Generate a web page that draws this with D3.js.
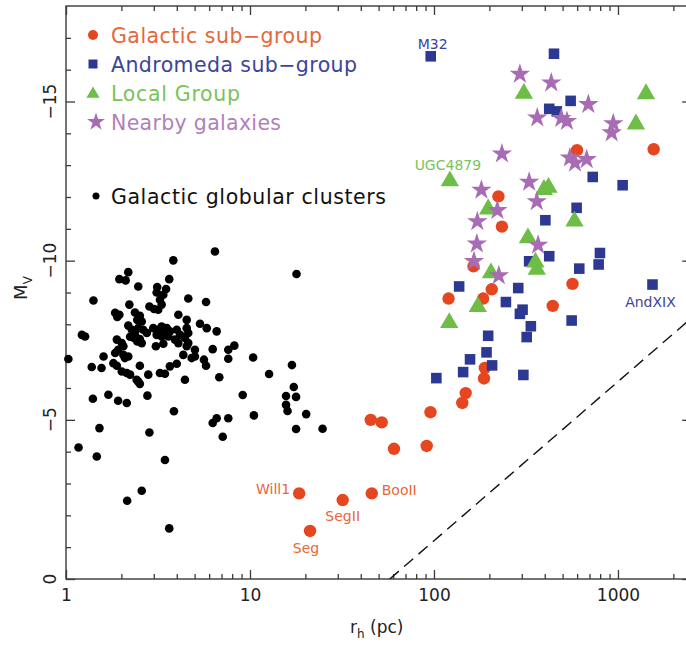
<!DOCTYPE html>
<html>
<head>
<meta charset="utf-8">
<script src="https://cdn.jsdelivr.net/npm/d3@7"></script>
<style>
  body { margin: 0; background: #fff; }
  svg { display: block; }
  text { font-family: "DejaVu Sans", sans-serif; }
</style>
</head>
<body>
<svg id="chart" width="686" height="646"></svg>
<script>
// Half-light radius r_h (pc) and absolute magnitude M_V for each population.
const globularClusters = [
  [6.45,-10.29],[3.83,-10.01],[17.9,-9.58],[2.18,-9.64],[1.95,-9.42],[2.11,-9.38],[3.64,-9.42],
  [2.47,-9.19],[3.13,-9.17],[3.50,-9.11],[3.11,-9.00],[3.38,-8.93],[3.24,-8.77],[3.31,-8.62],
  [3.17,-8.46],[2.84,-8.56],[3.01,-8.48],[1.41,-8.75],[4.62,-8.81],[5.77,-8.70],[2.21,-8.62],
  [1.85,-8.36],[1.95,-8.30],[1.90,-8.23],[2.37,-8.37],[2.52,-8.27],[2.44,-8.14],[2.58,-8.09],
  [4.08,-8.30],[4.53,-8.14],[5.35,-8.02],[5.82,-7.88],[6.59,-7.78],[1.22,-7.67],[1.27,-7.62],
  [2.18,-7.96],[2.28,-7.83],[2.37,-7.70],[2.47,-7.88],[2.63,-7.83],[2.75,-7.73],[2.23,-7.61],
  [2.34,-7.57],[2.52,-7.54],[2.44,-7.46],[2.58,-7.41],[2.98,-7.88],[3.17,-7.83],[3.31,-7.93],
  [3.53,-7.88],[3.67,-7.78],[3.11,-7.67],[3.31,-7.62],[3.45,-7.73],[3.60,-7.62],[4.00,-7.83],
  [4.17,-7.67],[3.91,-7.52],[4.08,-7.41],[4.53,-7.88],[4.62,-7.73],[4.43,-7.57],[4.62,-7.41],
  [4.53,-7.31],[1.89,-7.52],[2.01,-7.41],[2.05,-7.31],[1.92,-7.20],[3.08,-7.31],[3.38,-7.39],
  [5.02,-7.20],[6.27,-7.22],[1.03,-6.91],[1.60,-6.99],[1.85,-7.10],[1.81,-6.78],[1.89,-6.70],
  [2.05,-7.04],[2.18,-6.99],[2.09,-6.94],[4.34,-7.04],[4.82,-6.94],[5.02,-6.99],[5.62,-6.89],
  [5.77,-6.70],[1.38,-6.66],[1.56,-6.63],[2.52,-6.70],[2.01,-6.52],[2.14,-6.47],[2.23,-6.42],
  [3.24,-6.47],[3.45,-6.45],[3.67,-6.68],[4.00,-6.76],[2.80,-6.42],[2.42,-6.26],[2.52,-6.13],
  [2.47,-6.20],[4.43,-6.26],[7.62,-7.20],[8.22,-7.33],[7.62,-6.92],[10.4,-6.96],[6.81,-6.34],
  [12.7,-6.44],[16.9,-6.72],[17.3,-6.03],[9.13,-5.78],[15.7,-5.75],[17.8,-5.72],[15.7,-5.47],
  [16.0,-5.28],[20.2,-5.18],[10.5,-5.14],[1.40,-5.66],[1.70,-5.79],[1.92,-5.60],[2.14,-5.53],
  [2.77,-5.76],[3.86,-5.27],[6.27,-4.90],[6.59,-5.05],[7.62,-5.05],[7.11,-4.47],[17.8,-4.71],
  [24.8,-4.72],[1.52,-4.74],[2.84,-4.60],[1.17,-4.13],[1.47,-3.85],[3.45,-3.74],[2.58,-2.77],
  [2.15,-2.46],[3.64,-1.59]
];

const galacticSubgroup = [
  [18.5,-2.69],[21.2,-1.51],[31.9,-2.48],[45.9,-2.69],[45.3,-5.00],[52.0,-4.92],[60.6,-4.09],
  [91.3,-4.18],[95.7,-5.24],[142.5,-5.53],[148.7,-5.84],[187,-6.30],[189,-6.63],[120,-8.81],
  [185,-8.81],[206,-9.10],[164,-9.82],[234,-11.07],[224,-12.02],[442,-8.58],[566,-9.27],
  [599,-13.47],[1563,-13.50]
];

const andromedaSubgroup = [
  [96,-16.42],[449,-16.50],[553,-15.02],[423,-14.77],[465,-14.69],[729,-12.63],[1060,-12.37],
  [596,-11.66],[403,-11.27],[423,-10.14],[329,-9.98],[616,-9.75],[798,-10.24],[785,-9.88],
  [1540,-9.25],[137,-9.19],[287,-9.14],[246,-8.70],[303,-8.46],[293,-8.33],[560,-8.12],
  [336,-7.94],[319,-7.60],[197,-7.64],[193,-7.12],[157,-6.90],[207,-6.71],[144,-6.50],
  [103,-6.31],[306,-6.41]
];

const localGroup = [
  [308,-15.25],[1420,-15.24],[1252,-14.29],[122,-12.50],[396,-12.23],[419,-12.30],[197,-11.62],
  [580,-11.24],[324,-10.71],[356,-9.95],[362,-9.72],[204,-9.61],[173,-8.55],[121,-8.05]
];

const nearbyGalaxies = [
  [293,-15.86],[434,-15.59],[690,-14.91],[364,-14.49],[492,-14.47],[528,-14.38],[943,-14.31],
  [924,-14.02],[234,-13.36],[548,-13.23],[584,-13.07],[676,-13.18],[329,-12.47],[181,-12.22],
  [362,-11.86],[221,-11.58],[172,-11.23],[171,-10.53],[368,-10.49],[165,-9.98],[225,-9.53]
];

// Named objects: [group, index in that group, name]
const namedObjects = [
  ["galactic", 0, "Will1"],
  ["galactic", 1, "Seg"],
  ["galactic", 2, "SegII"],
  ["galactic", 3, "BooII"],
  ["andromeda", 0, "M32"],
  ["andromeda", 14, "AndXIX"],
  ["local", 3, "UGC4879"]
];

// Line of constant surface brightness
const surfaceBrightnessLine = [[57.5, 0], [2500, -8.19]];

const legendLabels = ["Galactic sub\u2212group", "Andromeda sub\u2212group", "Local Group", "Nearby galaxies"];
const gcLegendLabel = "Galactic globular clusters";

const xMajorTicks = [1, 10, 100, 1000];
const xMinorTicks = [2,3,4,5,6,7,8,9,20,30,40,50,60,70,80,90,200,300,400,500,600,700,800,900,2000];
const yMajorTicks = [-15, -10, -5, 0];
const yMinorTicks = d3.range(-17, 0).filter(v => v % 5 !== 0);

(function draw() {
  const svg = d3.select("#chart");
  const plotL = 66, plotR = 691.2, plotT = 6, plotB = 579;

  const x = d3.scaleLog().domain([1, 2500]).range([plotL, plotR]);
  const y = d3.scaleLinear().domain([0, -18]).range([plotB, plotT]);

  const fill = {
    galactic: "#e6461f",
    andromeda: "#2c3891",
    local: "#6dbd47",
    nearby: "#a76cb3"
  };
  const textFill = {
    galactic: "#e4683a",
    andromeda: "#3c4498",
    local: "#79c35a",
    nearby: "#b07fbb"
  };
  const axisColor = "#3a3a3a";

  // Frame
  svg.append("rect")
    .attr("x", plotL).attr("y", plotT)
    .attr("width", plotR - plotL).attr("height", plotB - plotT)
    .attr("fill", "none").attr("stroke", axisColor).attr("stroke-width", 1.4);

  function styleAxis(g) {
    g.select(".domain").remove();
    g.selectAll(".tick line").attr("stroke", axisColor).attr("stroke-width", 1.3);
  }

  // Bottom axis
  svg.append("g").attr("transform", `translate(0,${plotB})`)
    .call(d3.axisBottom(x).tickValues(xMajorTicks).tickSize(-9).tickPadding(10).tickFormat(d3.format("d")))
    .call(styleAxis)
    .call(g => g.selectAll("text")
      .attr("font-size", 17).attr("fill", "#222")
      .attr("font-family", "DejaVu Sans, sans-serif"));
  svg.append("g").attr("transform", `translate(0,${plotB})`)
    .call(d3.axisBottom(x).tickValues(xMinorTicks).tickSize(-5).tickFormat(""))
    .call(styleAxis);

  // Top axis
  svg.append("g").attr("transform", `translate(0,${plotT})`)
    .call(d3.axisTop(x).tickValues(xMajorTicks).tickSize(-9).tickFormat(""))
    .call(styleAxis);
  svg.append("g").attr("transform", `translate(0,${plotT})`)
    .call(d3.axisTop(x).tickValues(xMinorTicks).tickSize(-5).tickFormat(""))
    .call(styleAxis);

  // Left and right axes
  svg.append("g").attr("transform", `translate(${plotL},0)`)
    .call(d3.axisLeft(y).tickValues(yMajorTicks).tickSize(-9).tickFormat(""))
    .call(styleAxis);
  svg.append("g").attr("transform", `translate(${plotL},0)`)
    .call(d3.axisLeft(y).tickValues(yMinorTicks).tickSize(-5).tickFormat(""))
    .call(styleAxis);
  svg.append("g").attr("transform", `translate(${plotR},0)`)
    .call(d3.axisRight(y).tickValues(yMajorTicks).tickSize(-9).tickFormat(""))
    .call(styleAxis);
  svg.append("g").attr("transform", `translate(${plotR},0)`)
    .call(d3.axisRight(y).tickValues(yMinorTicks).tickSize(-5).tickFormat(""))
    .call(styleAxis);

  // Rotated y tick labels
  svg.append("g").selectAll("text")
    .data(yMajorTicks)
    .join("text")
    .attr("transform", d => `translate(56,${y(d)}) rotate(-90)`)
    .attr("text-anchor", "middle")
    .attr("font-size", 17).attr("fill", "#222")
    .text(d => d === 0 ? "0" : "\u2212" + Math.abs(d));

  // Axis titles
  const xTitle = svg.append("text")
    .attr("x", 350).attr("y", 633)
    .attr("font-size", 17).attr("fill", "#222");
  xTitle.append("tspan").text("r");
  xTitle.append("tspan").attr("font-size", 12).attr("dy", 5).text("h");
  xTitle.append("tspan").attr("dy", -5).text(" (pc)");

  const yTitle = svg.append("text")
    .attr("transform", "translate(27,288) rotate(-90)")
    .attr("text-anchor", "middle")
    .attr("font-size", 18).attr("fill", "#222");
  yTitle.append("tspan").text("M");
  yTitle.append("tspan").attr("font-size", 12).attr("dy", 5).text("V");

  // Constant surface brightness (dashed)
  svg.append("clipPath").attr("id", "plot-clip")
    .append("rect").attr("x", plotL).attr("y", plotT)
    .attr("width", plotR - plotL).attr("height", plotB - plotT);
  svg.append("path")
    .datum(surfaceBrightnessLine)
    .attr("clip-path", "url(#plot-clip)")
    .attr("d", d3.line().x(d => x(d[0])).y(d => y(d[1])))
    .attr("fill", "none").attr("stroke", "#111")
    .attr("stroke-width", 1.4).attr("stroke-dasharray", "12,7");

  // Markers
  const marks = svg.append("g");
  marks.append("g").selectAll("circle")
    .data(globularClusters).join("circle")
    .attr("cx", d => x(d[0])).attr("cy", d => y(d[1]))
    .attr("r", 4.3).attr("fill", "#000");

  marks.append("g").selectAll("circle")
    .data(galacticSubgroup).join("circle")
    .attr("cx", d => x(d[0])).attr("cy", d => y(d[1]))
    .attr("r", 6.2).attr("fill", fill.galactic);

  const square = d3.symbol().type(d3.symbolSquare).size(112);
  marks.append("g").selectAll("path")
    .data(andromedaSubgroup).join("path")
    .attr("transform", d => `translate(${x(d[0])},${y(d[1])})`)
    .attr("d", square).attr("fill", fill.andromeda);

  const triangle = d3.symbol().type(d3.symbolTriangle).size(145);
  marks.append("g").selectAll("path")
    .data(localGroup).join("path")
    .attr("transform", d => `translate(${x(d[0])},${y(d[1])})`)
    .attr("d", triangle).attr("fill", fill.local);

  const star = d3.symbol().type(d3.symbolStar).size(130);
  marks.append("g").selectAll("path")
    .data(nearbyGalaxies).join("path")
    .attr("transform", d => `translate(${x(d[0])},${y(d[1])})`)
    .attr("d", star).attr("fill", fill.nearby);

  // Object names
  const groups = { galactic: galacticSubgroup, andromeda: andromedaSubgroup, local: localGroup };
  const labelPlacement = {
    "Will1":   { dx: -9, dy: 1,  anchor: "end" },
    "Seg":     { dx: -4, dy: 22, anchor: "middle" },
    "SegII":   { dx: 0,  dy: 21, anchor: "middle" },
    "BooII":   { dx: 10, dy: 2,  anchor: "start" },
    "M32":     { dx: 2,  dy: -7, anchor: "middle" },
    "AndXIX":  { dx: -2, dy: 22, anchor: "middle" },
    "UGC4879": { dx: -2, dy: -11, anchor: "middle" }
  };
  svg.append("g").selectAll("text")
    .data(namedObjects).join("text")
    .attr("x", d => x(groups[d[0]][d[1]][0]) + labelPlacement[d[2]].dx)
    .attr("y", d => y(groups[d[0]][d[1]][1]) + labelPlacement[d[2]].dy)
    .attr("text-anchor", d => labelPlacement[d[2]].anchor)
    .attr("font-size", 14)
    .attr("fill", d => textFill[d[0]])
    .text(d => d[2]);

  // Legend
  const legendKeys = ["galactic", "andromeda", "local", "nearby"];
  const legendWidths = [211, 246, 129, 170];
  const legend = svg.append("g");
  legendKeys.forEach((k, i) => {
    const cy = 35 + i * 29;
    const g = legend.append("g");
    if (k === "galactic") {
      g.append("circle").attr("cx", 93).attr("cy", cy).attr("r", 5).attr("fill", fill[k]);
    } else if (k === "andromeda") {
      g.append("path").attr("transform", `translate(93,${cy})`)
        .attr("d", d3.symbol().type(d3.symbolSquare).size(81)).attr("fill", fill[k]);
    } else if (k === "local") {
      g.append("path").attr("transform", `translate(93,${cy + 1})`)
        .attr("d", d3.symbol().type(d3.symbolTriangle).size(75)).attr("fill", fill[k]);
    } else {
      g.append("path").attr("transform", `translate(96,${cy})`)
        .attr("d", d3.symbol().type(d3.symbolStar).size(100)).attr("fill", fill[k]);
    }
    g.append("text").attr("x", 111).attr("y", cy + 7.5)
      .attr("font-size", 20.5).attr("fill", textFill[k])
      .attr("textLength", legendWidths[i]).attr("lengthAdjust", "spacing")
      .text(legendLabels[i]);
  });
  legend.append("circle").attr("cx", 96).attr("cy", 196).attr("r", 3.5).attr("fill", "#000");
  legend.append("text").attr("x", 111).attr("y", 203.5)
    .attr("font-size", 20.5).attr("fill", "#111")
    .attr("textLength", 275).attr("lengthAdjust", "spacing")
    .text(gcLegendLabel);
})();
</script>
</body>
</html>
